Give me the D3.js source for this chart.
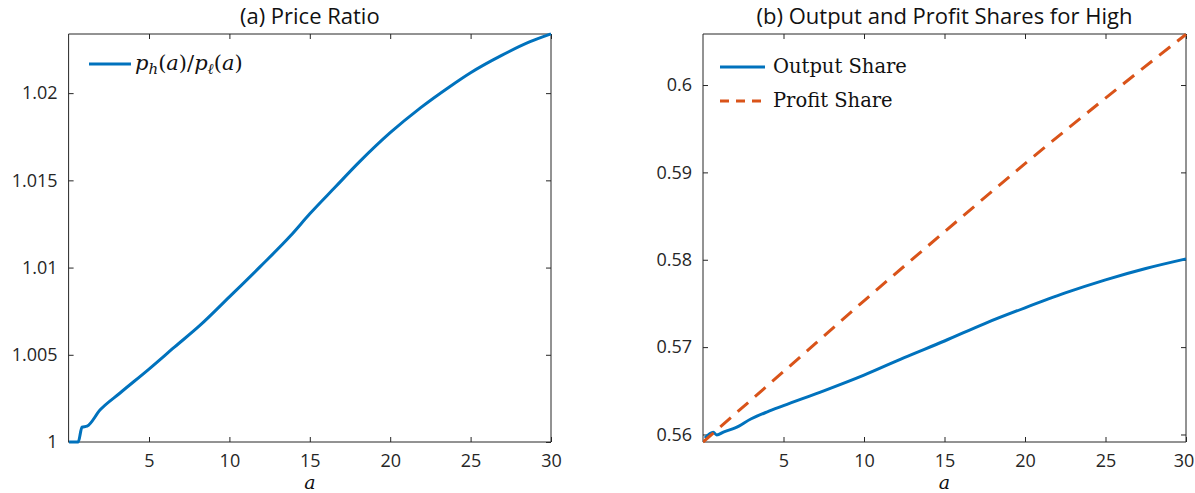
<!DOCTYPE html>
<html>
<head>
<meta charset="utf-8">
<script src="https://cdn.jsdelivr.net/npm/d3@7"></script>
<style>
  html, body { margin: 0; padding: 0; background: #fff; }
  svg { display: block; }
</style>
</head>
<body>
<svg id="chart" width="1195" height="493"></svg>
<script>
// ---- Data ----
const aPrice =     [0.03, 0.6, 0.83, 1.15, 1.95, 3.2, 5, 6.6, 8.2, 10, 11.9, 13.8, 15, 16.6, 18.1, 20, 21.9, 23.7, 25, 26.9, 28.7, 30];
const priceRatio = [1.0000, 1.0000, 1.00085, 1.00091, 1.00183, 1.00281, 1.00418, 1.00545, 1.00671, 1.00832, 1.01004, 1.01182, 1.01308, 1.01463, 1.01607, 1.01773, 1.01917, 1.02037, 1.02117, 1.02215, 1.02295, 1.0234];

const aOutput =     [0.12, 0.64, 0.85, 1.3, 2, 3, 4, 5, 7.5, 10, 12.5, 15, 17.5, 20, 22.5, 25, 27.5, 30];
const outputShare = [0.5596, 0.56025, 0.55995, 0.5603, 0.56075, 0.5618, 0.5626, 0.5633, 0.5650, 0.5668, 0.5688, 0.5707, 0.5727, 0.5745, 0.5762, 0.5777, 0.5790, 0.5801];

const aProfit =     [0, 5, 10, 15, 20, 25, 30];
const profitShare = [0.55914, 0.5672, 0.5753, 0.5832, 0.5910, 0.5985, 0.6058];

const xTicks = [5, 10, 15, 20, 25, 30];
const yTicksLeft = [1, 1.005, 1.01, 1.015, 1.02];
const yTickLabelsLeft = ["1", "1.005", "1.01", "1.015", "1.02"];
const yTicksRight = [0.56, 0.57, 0.58, 0.59, 0.6];
const yTickLabelsRight = ["0.56", "0.57", "0.58", "0.59", "0.6"];

const titles = ["(a) Price Ratio", "(b) Output and Profit Shares for High"];

// ---- Layout ----
const svg = d3.select("#chart");
const BLUE = "#0072BD", ORANGE = "#D95319", AXIS = "#262626";
const sansFont = "'Open Sans', 'Noto Sans', sans-serif";
const serifFont = "'DejaVu Serif', 'Liberation Serif', serif";

function panel(cfg) {
  const { left, right, top, bottom, xDomain, yDomain, yTicks, yLabels, title, clipId, lastDx } = cfg;
  const x = d3.scaleLinear().domain(xDomain).range([left, right]);
  const y = d3.scaleLinear().domain(yDomain).range([bottom, top]);
  const g = svg.append("g");

  svg.append("clipPath").attr("id", clipId)
    .append("rect").attr("x", left).attr("y", top - 2).attr("width", right - left + 2).attr("height", bottom - top + 4);

  const xb = g.append("g").attr("transform", `translate(0,${bottom})`)
    .call(d3.axisBottom(x).tickValues(xTicks).tickSize(-5).tickPadding(12).tickFormat(d3.format("d")));
  const xt = g.append("g").attr("transform", `translate(0,${top})`)
    .call(d3.axisTop(x).tickValues(xTicks).tickSize(-5).tickFormat(""));
  const yl = g.append("g").attr("transform", `translate(${left},0)`)
    .call(d3.axisLeft(y).tickValues(yTicks).tickSize(-5).tickPadding(11).tickFormat((d, i) => yLabels[i]));
  const yr = g.append("g").attr("transform", `translate(${right},0)`)
    .call(d3.axisRight(y).tickValues(yTicks).tickSize(-5).tickFormat(""));
  [xb, xt, yl, yr].forEach(a => {
    a.select(".domain").attr("stroke", AXIS).attr("stroke-width", 1).attr("d",
      a === xb || a === xt ? `M${left},0H${right}` : `M0,${top}V${bottom}`);
    a.selectAll(".tick line").attr("stroke", AXIS);
    a.selectAll("text").attr("fill", AXIS).style("font-family", sansFont).style("font-size", "18px");
  });
  if (lastDx) xb.selectAll(".tick text").filter(d => d === 30).attr("dx", lastDx);

  g.append("text").attr("x", (left + right) / 2).attr("y", 24)
    .attr("text-anchor", "middle").attr("fill", "#111")
    .style("font-family", sansFont).style("font-size", "22px").text(title);

  g.append("text").attr("x", (left + right) / 2).attr("y", 489)
    .attr("text-anchor", "middle").attr("fill", "#111")
    .style("font-family", serifFont).style("font-style", "italic").style("font-size", "19px").text("a");

  return { x, y, g };
}

// Left panel
const P1 = panel({ left: 68.6, right: 551, top: 34, bottom: 442,
  xDomain: [0, 30], yDomain: [1, 1.02339], yTicks: yTicksLeft, yLabels: yTickLabelsLeft,
  title: titles[0], clipId: "c1" });

const line1 = d3.line().x((d, i) => P1.x(aPrice[i])).y(d => P1.y(d)).curve(d3.curveMonotoneX);
P1.g.append("path").attr("d", line1(priceRatio)).attr("fill", "none")
  .attr("stroke", BLUE).attr("stroke-width", 3).attr("clip-path", "url(#c1)");

// Legend left
P1.g.append("line").attr("x1", 89).attr("x2", 131).attr("y1", 64).attr("y2", 64)
  .attr("stroke", BLUE).attr("stroke-width", 3);
const lt = P1.g.append("text").attr("x", 135).attr("y", 70).attr("fill", "#111")
  .style("font-family", serifFont).style("font-size", "21px");
lt.append("tspan").style("font-style", "italic").text("p");
lt.append("tspan").style("font-style", "italic").style("font-size", "15px").attr("dy", 4).text("h");
lt.append("tspan").attr("dy", -4).text("(");
lt.append("tspan").style("font-style", "italic").text("a");
lt.append("tspan").text(")/");
lt.append("tspan").style("font-style", "italic").text("p");
lt.append("tspan").style("font-style", "italic").style("font-size", "15px").attr("dy", 4).text("ℓ");
lt.append("tspan").attr("dy", -4).text("(");
lt.append("tspan").style("font-style", "italic").text("a");
lt.append("tspan").text(")");

// Right panel
const P2 = panel({ left: 703, right: 1186, top: 34, bottom: 442,
  xDomain: [0, 30], yDomain: [0.55914, 0.60584], yTicks: yTicksRight, yLabels: yTickLabelsRight,
  title: titles[1], clipId: "c2", lastDx: -2.5 });

const line2 = d3.line().x((d, i) => P2.x(aOutput[i])).y(d => P2.y(d)).curve(d3.curveMonotoneX);
P2.g.append("path").attr("d", line2(outputShare)).attr("fill", "none")
  .attr("stroke", BLUE).attr("stroke-width", 3).attr("clip-path", "url(#c2)");
const line3 = d3.line().x((d, i) => P2.x(aProfit[i])).y(d => P2.y(d)).curve(d3.curveMonotoneX);
P2.g.append("path").attr("d", line3(profitShare)).attr("fill", "none")
  .attr("stroke", ORANGE).attr("stroke-width", 3).attr("stroke-dasharray", "14,9").attr("clip-path", "url(#c2)");

// Legend right
const legR = [
  { label: "Output Share", color: BLUE, dash: null, y: 67 },
  { label: "Profit Share", color: ORANGE, dash: "9,7", y: 101 }
];
legR.forEach(d => {
  P2.g.append("line").attr("x1", 720).attr("x2", 765).attr("y1", d.y).attr("y2", d.y)
    .attr("stroke", d.color).attr("stroke-width", 3).attr("stroke-dasharray", d.dash);
  P2.g.append("text").attr("x", 773).attr("y", d.y + 6).attr("fill", "#111")
    .style("font-family", serifFont).style("font-size", "19.5px").text(d.label);
});
</script>
</body>
</html>
